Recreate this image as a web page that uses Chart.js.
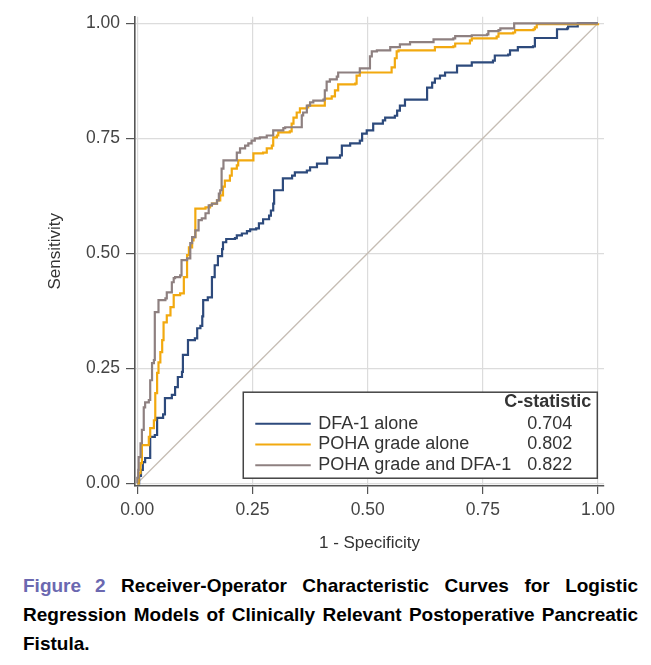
<!DOCTYPE html>
<html>
<head>
<meta charset="utf-8">
<script src="https://cdn.jsdelivr.net/npm/chart.js@4"></script>
<style>
  html, body { margin: 0; padding: 0; background: #fff; }
  #wrap { position: relative; width: 651px; height: 565px; }
  #caption {
    position: absolute; left: 23px; top: 571px; width: 615px;
    font-family: "Liberation Sans", Arial, sans-serif; font-weight: bold;
    font-size: 19px; line-height: 29px; text-align: justify; color: #000;
  }
  #caption .fig { color: #6b68b0; }
  #caption .fig b { margin-left: 14px; }
</style>
</head>
<body>
<div id="wrap"><canvas id="roc"></canvas></div>
<div id="caption"><span class="fig">Figure<b>2</b></span> Receiver-Operator Characteristic Curves for Logistic Regression Models of Clinically Relevant Postoperative Pancreatic Fistula.</div>
<script>
// ROC points (1 - specificity, sensitivity)
const dfaX = [0,0.004,0.008,0.012,0.012,0.017,0.028,0.028,0.038,0.043,0.056,0.060,0.075,0.082,0.088,0.097,0.099,0.110,0.110,0.125,0.130,0.137,0.141,0.143,0.153,0.162,0.168,0.175,0.184,0.186,0.193,0.212,0.216,0.227,0.238,0.245,0.258,0.264,0.273,0.286,0.290,0.295,0.297,0.316,0.316,0.336,0.342,0.368,0.375,0.390,0.412,0.440,0.444,0.462,0.483,0.488,0.498,0.512,0.533,0.538,0.559,0.564,0.570,0.581,0.624,0.629,0.640,0.646,0.657,0.668,0.690,0.694,0.722,0.726,0.772,0.776,0.805,0.809,0.826,0.859,0.863,0.902,0.911,0.933,0.935,0.956,0.956,1];
const dfaY = [0,0.016,0.029,0.033,0.046,0.055,0.059,0.101,0.105,0.142,0.150,0.185,0.192,0.209,0.231,0.242,0.279,0.283,0.311,0.315,0.337,0.342,0.363,0.398,0.404,0.448,0.474,0.494,0.509,0.524,0.531,0.533,0.539,0.543,0.548,0.552,0.554,0.565,0.574,0.582,0.593,0.608,0.637,0.643,0.663,0.669,0.676,0.680,0.687,0.695,0.708,0.713,0.734,0.739,0.745,0.760,0.767,0.782,0.789,0.795,0.799,0.810,0.821,0.834,0.834,0.860,0.871,0.880,0.886,0.893,0.893,0.908,0.908,0.915,0.919,0.930,0.932,0.941,0.948,0.950,0.968,0.968,0.987,0.989,0.993,0.996,1,1];

const pohaX = [0,0.003,0.007,0.010,0.021,0.025,0.028,0.036,0.039,0.043,0.046,0.050,0.054,0.057,0.064,0.072,0.079,0.093,0.101,0.108,0.108,0.112,0.119,0.122,0.126,0.144,0.148,0.158,0.162,0.173,0.180,0.186,0.190,0.201,0.205,0.216,0.219,0.248,0.252,0.273,0.281,0.292,0.295,0.303,0.306,0.331,0.335,0.339,0.346,0.353,0.368,0.371,0.404,0.407,0.422,0.429,0.436,0.473,0.476,0.483,0.549,0.552,0.559,0.563,0.567,0.642,0.646,0.686,0.690,0.718,0.722,0.726,0.776,0.780,0.784,0.816,0.820,0.860,0.863,0.867,1];
const pohaY = [0,0.022,0.044,0.083,0.083,0.101,0.120,0.137,0.196,0.240,0.263,0.285,0.311,0.350,0.365,0.383,0.409,0.413,0.448,0.452,0.496,0.513,0.528,0.535,0.597,0.597,0.600,0.604,0.608,0.615,0.626,0.645,0.658,0.669,0.684,0.691,0.702,0.702,0.717,0.719,0.728,0.734,0.752,0.756,0.763,0.765,0.782,0.795,0.806,0.815,0.817,0.821,0.821,0.836,0.841,0.854,0.867,0.869,0.886,0.893,0.893,0.904,0.924,0.939,0.941,0.941,0.948,0.950,0.956,0.956,0.963,0.967,0.967,0.971,0.978,0.980,0.985,0.987,0.991,0.998,1];

const bothX = [0,0.000,0.002,0.003,0.007,0.010,0.014,0.017,0.025,0.028,0.032,0.036,0.038,0.038,0.046,0.046,0.061,0.064,0.075,0.079,0.082,0.093,0.096,0.108,0.115,0.119,0.126,0.133,0.140,0.148,0.155,0.162,0.173,0.177,0.180,0.183,0.187,0.205,0.216,0.223,0.234,0.241,0.248,0.255,0.266,0.281,0.295,0.317,0.321,0.353,0.357,0.360,0.368,0.375,0.382,0.404,0.407,0.411,0.418,0.433,0.436,0.480,0.483,0.501,0.505,0.509,0.520,0.549,0.570,0.592,0.639,0.643,0.686,0.690,0.726,0.759,0.762,0.784,0.788,0.816,0.818,1];
const bothY = [0,0.012,0.029,0.057,0.087,0.116,0.165,0.176,0.181,0.224,0.261,0.268,0.311,0.372,0.376,0.398,0.402,0.415,0.437,0.446,0.448,0.452,0.485,0.489,0.522,0.535,0.550,0.572,0.576,0.587,0.604,0.608,0.615,0.630,0.637,0.684,0.702,0.702,0.719,0.728,0.734,0.739,0.745,0.750,0.752,0.756,0.767,0.772,0.774,0.774,0.800,0.806,0.821,0.828,0.832,0.834,0.854,0.873,0.878,0.884,0.893,0.893,0.902,0.902,0.928,0.939,0.941,0.948,0.954,0.959,0.959,0.965,0.967,0.972,0.974,0.976,0.983,0.985,0.989,0.989,1,1];

const seriesNames = ['DFA-1 alone', 'POHA grade alone', 'POHA grade and DFA-1'];
const cStats = ['0.704', '0.802', '0.822'];
const colors = ['#2d4a7c', '#f2a90f', '#8e8080'];
const axisTicks = [0, 0.25, 0.5, 0.75, 1];

const toPts = (xs, ys) => xs.map((x, i) => ({x: x, y: ys[i]}));
const FONT = '"Liberation Sans", Arial, sans-serif';

// Stata-style legend box with a C-statistic column
const rocLegend = {
  id: 'rocLegend',
  afterDatasetsDraw(chart) {
    const {ctx, scales: {x, y}} = chart;
    const left = x.getPixelForValue(0.23), right = x.getPixelForValue(1) - 0.7;
    const top = y.getPixelForValue(0.198), bottom = y.getPixelForValue(0.011);
    ctx.save();
    ctx.fillStyle = '#fff';
    ctx.fillRect(left, top, right - left, bottom - top);
    ctx.strokeStyle = '#444';
    ctx.lineWidth = 1.5;
    ctx.strokeRect(left, top, right - left, bottom - top);
    ctx.textBaseline = 'middle';
    ctx.fillStyle = '#333';
    ctx.font = 'bold 18px ' + FONT;
    ctx.textAlign = 'right';
    ctx.fillText('C-statistic', right - 6, top + 10);
    ctx.font = '18px ' + FONT;
    ctx.textAlign = 'left';
    seriesNames.forEach((name, i) => {
      const cy = top + 31.5 + i * 20.8;
      ctx.strokeStyle = colors[i];
      ctx.lineWidth = 2;
      ctx.beginPath();
      ctx.moveTo(left + 12, cy);
      ctx.lineTo(left + 67.5, cy);
      ctx.stroke();
      ctx.fillStyle = '#333';
      ctx.fillText(name, left + 75, cy);
      ctx.fillText(cStats[i], left + 284, cy);
    });
    ctx.restore();
  }
};

const setTicks = scale => { scale.ticks = axisTicks.map(v => ({value: v})); };

new Chart(document.getElementById('roc'), {
  type: 'line',
  data: {
    datasets: [
      {label: seriesNames[2], data: toPts(bothX, bothY), borderColor: colors[2], order: 0},
      {label: seriesNames[1], data: toPts(pohaX, pohaY), borderColor: colors[1], order: 1},
      {label: seriesNames[0], data: toPts(dfaX, dfaY), borderColor: colors[0], order: 2},
      {label: 'Reference', data: [{x: 0, y: 0}, {x: 1, y: 1}], borderColor: '#c6bdb4', borderWidth: 1.3, stepped: false, order: 3}
    ]
  },
  options: {
    responsive: true,
    maintainAspectRatio: false,
    animation: false,
    layout: { padding: { left: 0, right: 47, top: 16.7, bottom: 0 } },
    elements: {
      point: { radius: 0 },
      line: { borderWidth: 2.2, stepped: 'before', tension: 0 }
    },
    plugins: { legend: { display: false }, tooltip: { enabled: false } },
    scales: {
      x: {
        type: 'linear',
        min: -0.005, max: 1.013,
        afterBuildTicks: setTicks,
        afterFit: s => { s.height = 79; },
        grid: { color: '#dcdcdc', lineWidth: 1.2, tickColor: '#555', tickLength: 8, tickWidth: 1.2 },
        border: { color: '#555', width: 1.6 },
        ticks: { color: '#444', padding: 6, maxRotation: 0, font: { family: FONT, size: 17.5 }, callback: v => v.toFixed(2) },
        title: { display: true, text: '1 - Specificity', color: '#333', padding: { top: 0, bottom: 11.8 }, font: { family: FONT, size: 17 } }
      },
      y: {
        type: 'linear',
        min: -0.0059, max: 1.0143,
        afterBuildTicks: setTicks,
        afterFit: s => { s.width = 135; },
        grid: { color: '#dcdcdc', lineWidth: 1.2, tickColor: '#555', tickLength: 9, tickWidth: 1.2 },
        border: { color: '#555', width: 1.6 },
        ticks: { color: '#444', padding: 6, font: { family: FONT, size: 17.5 }, callback: v => v.toFixed(2) },
        title: { display: true, text: 'Sensitivity', color: '#333', padding: { top: 44.8, bottom: 0 }, font: { family: FONT, size: 17 } }
      }
    }
  },
  plugins: [rocLegend]
});
</script>
</body>
</html>
